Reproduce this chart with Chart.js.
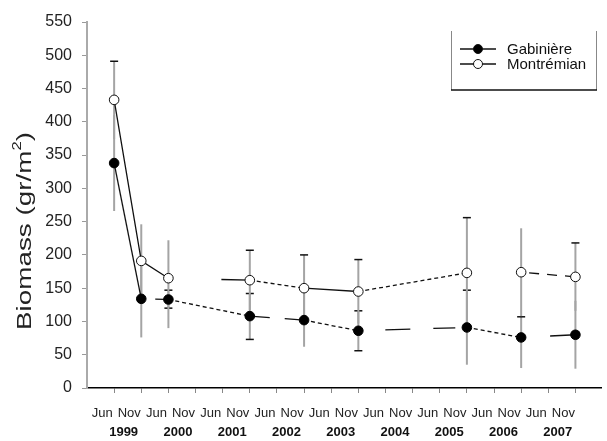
<!DOCTYPE html>
<html lang="fr">
<head>
  <meta charset="UTF-8">
  <title>Biomass</title>
  <script src="https://cdn.jsdelivr.net/npm/chart.js"></script>
  <style>
    body { margin: 0; background: #fff; }
    #wrap { width: 607px; height: 441px; }
  </style>
</head>
<body>
<div id="wrap"><canvas id="myChart" width="607" height="441"></canvas></div>
<script>
  // sampling dates (x axis) and year labels
  const months = ['Jun', 'Nov', 'Jun', 'Nov', 'Jun', 'Nov', 'Jun', 'Nov', 'Jun',
                  'Nov', 'Jun', 'Nov', 'Jun', 'Nov', 'Jun', 'Nov', 'Jun', 'Nov'];
  const years = ['1999', '2000', '2001', '2002', '2003', '2004', '2005', '2006', '2007'];
  const yTicks = [0, 50, 100, 150, 200, 250, 300, 350, 400, 450, 500, 550];

  // biomass values (gr/m2), null = no sampling
  const gabiniere  = [338, 134, 133, null, null, 108, null, 102, null, 86, null, null, null, 91, null, 76, null, 80];
  const gabLow     = [266, 76, 120, null, null, 73, null, 62, null, 56, null, null, null, 35, null, 30, null, 29];
  const gabHigh    = [410, 192, 147, null, null, 142, null, 142, null, 116, null, null, null, 147, null, 107, null, 131];
  const montremian = [433, 191, 165, null, null, 162, null, 150, null, 145, null, null, null, 173, null, 174, null, 167];
  const montLow    = [374, 136, 90, null, null, 117, null, 100, null, 97, null, null, null, 90, null, 108, null, 116];
  const montHigh   = [491, 246, 222, null, null, 207, null, 200, null, 193, null, null, null, 256, null, 240, null, 218];

  // line style of each segment (key = index of the segment's end point)
  const gabDash = {1: [], 2: [0, 14, 9, 20], 5: [4, 3], 7: [20, 15, 16, 20], 9: [4, 3],
                   13: [0, 27, 25, 23, 22, 30], 15: [4, 3], 17: [0, 29, 30]};
  const montDash = {1: [], 2: [], 5: [0, 53, 40], 7: [4, 3], 9: [], 13: [4, 3],
                    15: [0, 200], 17: [0, 8, 10, 8, 10, 8, 10]};
  // which error bar ends get a cap
  const gabCaps = {2: 'both', 5: 'both', 9: 'both', 13: 'high', 15: 'high'};
  const montCaps = {0: 'high', 5: 'high', 7: 'high', 9: 'high', 13: 'high', 17: 'high'};

  const FONT = "'Liberation Sans', Arial, sans-serif";

  function pts(arr) {
    return arr.map((v, i) => ({x: i, y: v}));
  }

  const errors = [
    {lo: gabLow, hi: gabHigh, caps: gabCaps},
    {lo: montLow, hi: montHigh, caps: montCaps}
  ];

  const decor = {
    id: 'decor',
    beforeDatasetsDraw(chart) {
      const ctx = chart.ctx, xs = chart.scales.x, ys = chart.scales.y;
      ctx.save();
      errors.forEach(e => {
        e.lo.forEach((lo, i) => {
          if (lo == null) return;
          const x = xs.getPixelForValue(i);
          const y1 = ys.getPixelForValue(lo), y2 = ys.getPixelForValue(e.hi[i]);
          ctx.strokeStyle = '#a4a4a4';
          ctx.lineWidth = 2;
          ctx.beginPath(); ctx.moveTo(x, y1); ctx.lineTo(x, y2); ctx.stroke();
          const c = e.caps[i];
          ctx.strokeStyle = '#111';
          ctx.lineWidth = 1.5;
          if (c === 'both' || c === 'low') {
            ctx.beginPath(); ctx.moveTo(x - 4, y1); ctx.lineTo(x + 4, y1); ctx.stroke();
          }
          if (c === 'both' || c === 'high') {
            ctx.beginPath(); ctx.moveTo(x - 4, y2); ctx.lineTo(x + 4, y2); ctx.stroke();
          }
        });
      });
      ctx.restore();
    },
    afterDraw(chart) {
      const ctx = chart.ctx;
      // y axis title, with superscript
      ctx.save();
      ctx.translate(25, 231);
      ctx.rotate(-Math.PI / 2);
      ctx.fillStyle = '#222';
      ctx.textBaseline = 'middle';
      ctx.font = '20px ' + FONT;
      const t1 = 'Biomass (gr/m', t3 = ')';
      const w1 = ctx.measureText(t1).width, w3 = ctx.measureText(t3).width;
      ctx.font = '12px ' + FONT;
      const w2 = ctx.measureText('2').width;
      const W = w1 + w2 + w3;
      ctx.scale(198 / W, 1);
      let x0 = -W / 2;
      ctx.font = '20px ' + FONT;
      ctx.fillText(t1, x0, 0);
      ctx.font = '12px ' + FONT;
      ctx.fillText('2', x0 + w1, -7);
      ctx.font = '20px ' + FONT;
      ctx.fillText(t3, x0 + w1 + w2, 0);
      ctx.restore();

      // legend box
      ctx.save();
      ctx.strokeStyle = '#888';
      ctx.lineWidth = 1;
      ctx.beginPath();
      ctx.moveTo(451.5, 31); ctx.lineTo(451.5, 90);
      ctx.moveTo(596.5, 31); ctx.lineTo(596.5, 90);
      ctx.stroke();
      ctx.strokeStyle = '#111';
      ctx.lineWidth = 1.5;
      ctx.beginPath(); ctx.moveTo(451, 90); ctx.lineTo(597, 90); ctx.stroke();
      chart.data.datasets.forEach((ds, k) => {
        const y = 49 + k * 15;
        ctx.strokeStyle = '#111';
        ctx.lineWidth = 1.3;
        ctx.beginPath(); ctx.moveTo(460, y); ctx.lineTo(496, y); ctx.stroke();
        ctx.beginPath(); ctx.arc(478, y, 4.5, 0, Math.PI * 2);
        ctx.fillStyle = ds.pointBackgroundColor;
        ctx.fill();
        ctx.lineWidth = 1;
        ctx.stroke();
        ctx.fillStyle = '#111';
        ctx.font = '15px ' + FONT;
        ctx.textBaseline = 'middle';
        ctx.fillText(ds.label, 507, y + 1);
      });
      ctx.restore();
    }
  };

  const ctx = document.getElementById('myChart').getContext('2d');
  new Chart(ctx, {
    type: 'line',
    data: {
      datasets: [
        {
          label: 'Gabinière',
          data: pts(gabiniere),
          borderColor: '#111',
          borderWidth: 1.3,
          pointRadius: 4.8,
          pointBackgroundColor: '#000',
          pointBorderColor: '#000',
          pointBorderWidth: 1,
          spanGaps: true,
          segment: { borderDash: c => gabDash[c.p1DataIndex] || [] }
        },
        {
          label: 'Montrémian',
          data: pts(montremian),
          borderColor: '#111',
          borderWidth: 1.3,
          pointRadius: 4.8,
          pointBackgroundColor: '#fff',
          pointBorderColor: '#111',
          pointBorderWidth: 1,
          spanGaps: true,
          segment: { borderDash: c => montDash[c.p1DataIndex] || [] }
        }
      ]
    },
    options: {
      responsive: false,
      animation: false,
      devicePixelRatio: 1,
      layout: { padding: { top: 22, left: 0, right: 0, bottom: 0 } },
      plugins: {
        legend: { display: false },
        tooltip: { enabled: false }
      },
      scales: {
        x: {
          type: 'linear',
          position: 'bottom',
          min: -1,
          max: 17.95,
          afterBuildTicks: s => { s.ticks = months.map((m, i) => ({value: i})); },
          afterFit: s => { s.height = 30; },
          ticks: {
            callback: (v, i) => months[i],
            autoSkip: false,
            maxRotation: 0,
            labelOffset: -12,
            padding: 13,
            color: '#222',
            font: { family: FONT, size: 13 }
          },
          grid: { drawOnChartArea: false, tickLength: 5, color: '#888' },
          border: { color: '#000', width: 1.5 }
        },
        x2: {
          type: 'linear',
          position: 'bottom',
          min: -1,
          max: 17.95,
          afterBuildTicks: s => { s.ticks = years.map((y, i) => ({value: 2 * i + 0.35})); },
          afterFit: s => { s.height = 23; },
          ticks: {
            callback: (v, i) => years[i],
            autoSkip: false,
            maxRotation: 0,
            padding: 7,
            color: '#111',
            font: { family: FONT, size: 13, weight: 'bold' }
          },
          grid: { display: false, drawTicks: false },
          border: { display: false }
        },
        y: {
          min: 0,
          max: 550,
          afterBuildTicks: s => { s.ticks = yTicks.map(v => ({value: v})); },
          afterFit: s => { s.width = 87; },
          ticks: {
            padding: 10,
            color: '#222',
            font: { family: FONT, size: 16 }
          },
          grid: { drawOnChartArea: false, tickLength: 5, color: '#999' },
          border: { color: '#aaa', width: 2 }
        }
      }
    },
    plugins: [decor]
  });
</script>
</body>
</html>
